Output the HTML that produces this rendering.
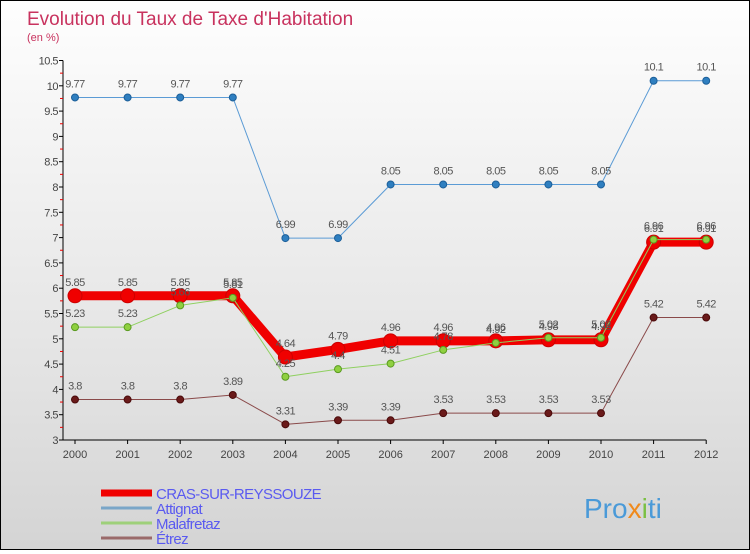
<!DOCTYPE html>
<html><head><meta charset="utf-8">
<style>
html,body{margin:0;padding:0}
body{width:750px;height:550px;overflow:hidden;font-family:"Liberation Sans",sans-serif}
#wrap{position:relative;width:748px;height:548px;border:1px solid #000;background:linear-gradient(#fefefe,#e2e2e2 70%,#d4d4d4)}
</style></head><body>
<div id="wrap">
<svg id="chart" width="748" height="548" font-family="Liberation Sans, sans-serif">
<text x="26" y="24" font-size="19" font-weight="300" fill="#c8325e">Evolution du Taux de Taxe d'Habitation</text>
<text x="26" y="40" font-size="11" fill="#c8325e">(en %)</text>
<g id="axes"></g><g id="series"></g><g id="legend"></g>
<text x="583" y="517" font-size="28" fill="#4a9ad8">Pro<tspan fill="#f08a1c">x</tspan><tspan fill="#7bc043">i</tspan>ti</text>
</svg>
</div>
<script>
const years=[2000,2001,2002,2003,2004,2005,2006,2007,2008,2009,2010,2011,2012];
const yTicks=[3,3.5,4,4.5,5,5.5,6,6.5,7,7.5,8,8.5,9,9.5,10,10.5];
const cras=[5.85,5.85,5.85,5.85,4.64,4.79,4.96,4.96,4.96,4.98,4.98,6.91,6.91];
const attignat=[9.77,9.77,9.77,9.77,6.99,6.99,8.05,8.05,8.05,8.05,8.05,10.1,10.1];
const malafretaz=[5.23,5.23,5.66,5.81,4.25,4.4,4.51,4.78,4.92,5.02,5.02,6.96,6.96];
const etrez=[3.8,3.8,3.8,3.89,3.31,3.39,3.39,3.53,3.53,3.53,3.53,5.42,5.42];
const names=["CRAS-SUR-REYSSOUZE","Attignat","Malafretaz","Étrez"];
const NS="http://www.w3.org/2000/svg";
const X=i=>74+i*52.6;
const Y=v=>439-(v-3)*50.6;
function mk(t,a,p){const e=document.createElementNS(NS,t);for(const k in a)e.setAttribute(k,a[k]);p.appendChild(e);return e;}
const axes=document.getElementById('axes');
mk('line',{x1:62,y1:Y(10.5),x2:62,y2:Y(3),stroke:'#000'},axes);
yTicks.forEach(v=>{
 mk('line',{x1:58,y1:Y(v),x2:62,y2:Y(v),stroke:'#000'},axes);
 mk('line',{x1:59,y1:Y(v+0.25),x2:62,y2:Y(v+0.25),stroke:'#e00'},axes).style.display=v<10.5?'':'none';
 const t=mk('text',{x:57,y:Y(v)+4,'font-size':11,'text-anchor':'end',fill:'#444','letter-spacing':'-0.5'},axes);
 
 
 t.textContent=v;
});
mk('line',{x1:62,y1:Y(3),x2:X(12),y2:Y(3),stroke:'#000'},axes);
years.forEach((y,i)=>{
 mk('line',{x1:X(i),y1:Y(3),x2:X(i),y2:Y(3)+4,stroke:'#000'},axes);
 const t=mk('text',{x:X(i),y:Y(3)+18,'font-size':11,'text-anchor':'middle',fill:'#444'},axes);
 
 
 t.textContent=y;
});
const sg=document.getElementById('series');
function series(vals,name,color,w,r,dot,dotStroke){
 const g=mk('g',{},sg);
 
 
 mk('polyline',{points:vals.map((v,i)=>X(i)+','+Y(v)).join(' '),fill:'none',stroke:color,'stroke-width':w,'stroke-linejoin':'round'},g);
 vals.forEach((v,i)=>{
  const c=mk('circle',{cx:X(i),cy:Y(v),r:r,fill:dot,stroke:dotStroke,'stroke-width':1},g);
  
  
  const t=mk('text',{x:X(i),y:Y(v)-10,'font-size':11,'text-anchor':'middle',fill:'#555','letter-spacing':'-0.5'},g);
  
  
  t.textContent=v;
 });
}
series(cras,'cras','#f00000',9,7,'#f00000','#c00');
series(attignat,'attignat','#5b9bd5',1,3.5,'#2f7fc0','#1c5f99');
series(malafretaz,'malafretaz','#8fd060',1,3.5,'#8fd040','#5a9a20');
series(etrez,'etrez','#8a4a4a',1,3.5,'#6a1a1a','#4a0a0a');
const lg=document.getElementById('legend');
const lc=['#f00000','#7aa6c8','#9ed07a','#9a6a6a'],lw=[7,3,3,3];
names.forEach((n,i)=>{
 const y=492+i*15;
 const g=mk('g',{},lg);
 
 
 mk('line',{x1:100,y1:y,x2:151,y2:y,stroke:lc[i],'stroke-width':lw[i]},g);
 const t=mk('text',{x:155,y:y+6,'font-size':15,fill:'#5a5af0','letter-spacing':'-0.6'},g);
 t.textContent=n;
});
</script>
</body></html>
